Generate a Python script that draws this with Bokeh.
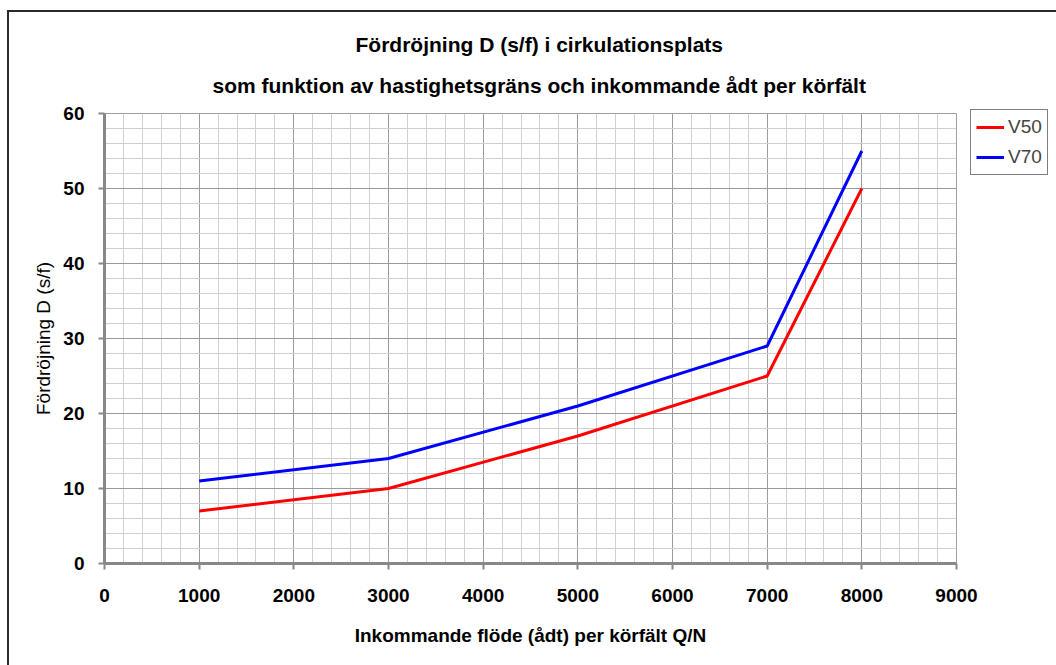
from bokeh.plotting import figure
from bokeh.models import Range1d, FixedTicker, Title, Legend, LegendItem
from bokeh.embed import file_html
from bokeh.resources import INLINE

flow = [1000, 3000, 5000, 7000, 8000]
v50 = [7, 10, 17, 25, 50]
v70 = [11, 14, 21, 29, 55]
x_ticks = [0, 1000, 2000, 3000, 4000, 5000, 6000, 7000, 8000, 9000]
y_ticks = [0, 10, 20, 30, 40, 50, 60]
title1 = "Fördröjning D (s/f) i cirkulationsplats"
title2 = "som funktion av hastighetsgräns och inkommande ådt per körfält"

FONT = "Liberation Sans"

p = figure(frame_width=852, frame_height=450, output_backend="svg", toolbar_location=None,
           x_range=Range1d(0, 9000), y_range=Range1d(0, 60),
           min_border_left=104, min_border_right=100, min_border_top=113, min_border_bottom=102)

p.border_fill_alpha = 0
p.styles = {
    "background": "linear-gradient(#2a2a2a, #2a2a2a) 7px 10px / 2px 100% no-repeat, "
                  "linear-gradient(#2a2a2a, #2a2a2a) 7px 10px / 100% 2px no-repeat, white"
}

p.outline_line_color = "#a0a0a0"
p.outline_line_width = 1
p.background_fill_color = "white"

for ax in (p.xaxis[0], p.yaxis[0]):
    ax.axis_line_color = "#888888"
    ax.axis_line_width = 3
    ax.major_tick_line_color = "#888888"
    ax.major_tick_line_width = 2
    ax.major_tick_out = 6
    ax.major_tick_in = 0
    ax.minor_tick_line_color = None
    ax.major_label_text_font = FONT
    ax.major_label_text_font_style = "bold"
    ax.major_label_text_font_size = "19px"
    ax.major_label_text_color = "black"
    ax.axis_label_text_font = FONT
    ax.axis_label_text_color = "black"

p.xaxis.ticker = FixedTicker(ticks=x_ticks, minor_ticks=list(range(0, 9001, 200)))
p.yaxis.ticker = FixedTicker(ticks=y_ticks, minor_ticks=list(range(0, 61, 2)))
p.xaxis.major_label_standoff = 19
p.yaxis.major_label_standoff = 14
p.xaxis.axis_label = "Inkommande flöde (ådt) per körfält Q/N"
p.xaxis.axis_label_text_font_style = "bold"
p.xaxis.axis_label_text_font_size = "19px"
p.xaxis.axis_label_standoff = 20
p.yaxis.axis_label = "Fördröjning D (s/f)"
p.yaxis.axis_label_text_font_style = "normal"
p.yaxis.axis_label_text_font_size = "19px"
p.yaxis.axis_label_standoff = 6

p.grid.grid_line_color = "#9a9a9a"
p.grid.grid_line_width = 1
p.grid.minor_grid_line_color = "#d0d0d0"
p.grid.minor_grid_line_width = 1

r50 = p.line(flow, v50, line_color="#ff0000", line_width=3)
r70 = p.line(flow, v70, line_color="#0000ff", line_width=3)

legend = Legend(items=[LegendItem(label="V50", renderers=[r50]),
                       LegendItem(label="V70", renderers=[r70])],
                location=(14, 388), orientation="vertical",
                border_line_color="black", border_line_width=1,
                background_fill_color="white", background_fill_alpha=1,
                label_text_font=FONT, label_text_font_size="19px",
                glyph_width=28, glyph_height=20, label_height=24, label_width=34,
                spacing=6, padding=5, margin=0, label_standoff=4)
p.add_layout(legend, "right")

p.add_layout(Title(text=title2, align="left", offset=108, text_font=FONT,
                   text_font_style="bold", text_font_size="21px",
                   text_color="black", standoff=33), "above")
p.add_layout(Title(text=title1, align="left", offset=251, text_font=FONT,
                   text_font_style="bold", text_font_size="21px",
                   text_color="black", standoff=0, text_line_height=1.3), "above")

open("out.html", "w").write(file_html(p, INLINE))
